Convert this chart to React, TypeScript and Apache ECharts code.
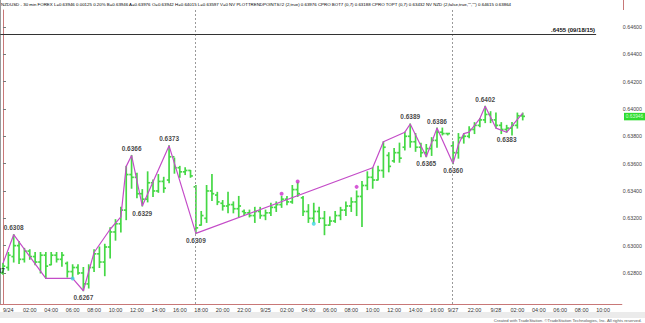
import React, { useEffect, useRef } from "react";
import * as echarts from "echarts";

// ---- time slots (30 min bars) ----
const sessions = [
  { date: "9/23", start: "23:30", count: 1 },
  { date: "9/24", start: "00:00", count: 48 },
  { date: "9/25", start: "00:00", count: 35 },
  { date: "9/27", start: "20:00", count: 8 },
  { date: "9/28", start: "00:00", count: 24 },
];

// ---- OHLC bars (slot index = array index) ----
const barOpen = [
  0.6280, 0.6284, 0.6292, 0.6300, 0.6290, 0.6296, 0.6292, 0.6288, 0.6293, 0.6286,
  0.6293, 0.6290, 0.6287, 0.6281, 0.6284, 0.6280, 0.6272, 0.6284, 0.6294, 0.6288,
  0.6299, 0.6310, 0.6316, 0.6326, 0.6352, 0.6350, 0.6338, 0.6334, 0.6346, 0.6340,
  0.6347, 0.6348, 0.6365, 0.6357, 0.6354, 0.6355, 0.6343, 0.6315, 0.6320, 0.6340,
  0.6337, 0.6331, 0.6329, 0.6330, 0.6327, 0.6325, 0.6324, 0.6322, 0.6325, 0.6322,
  0.6324, 0.6328, 0.6330, 0.6334, 0.6332, 0.6341, 0.6335, 0.6325, 0.6320, 0.6325,
  0.6320, 0.6315, 0.6318, 0.6322, 0.6326, 0.6329, 0.6332, 0.6336, 0.6344, 0.6350,
  0.6348, 0.6355, 0.6366, 0.6362, 0.6368, 0.6372, 0.6380, 0.6376, 0.6372, 0.6368,
  0.6371, 0.6377, 0.6383, 0.6382, 0.6373, 0.6368, 0.6379, 0.6380, 0.6385, 0.6388,
  0.6392, 0.6396, 0.6392, 0.6388, 0.6385, 0.6386, 0.6388, 0.6395,
];
const barHigh = [
  0.6287, 0.6295, 0.6308, 0.6303, 0.6298, 0.6297, 0.6295, 0.6295, 0.6295, 0.6295,
  0.6295, 0.6295, 0.6288, 0.6286, 0.6286, 0.6284, 0.6286, 0.6297, 0.6299, 0.6301,
  0.6313, 0.6319, 0.6328, 0.6358, 0.6366, 0.6353, 0.6341, 0.6354, 0.6348, 0.6352,
  0.6350, 0.6373, 0.6364, 0.6358, 0.6357, 0.6355, 0.6344, 0.6325, 0.6344, 0.6352,
  0.6339, 0.6333, 0.6339, 0.6332, 0.6336, 0.6326, 0.6326, 0.6328, 0.6328, 0.6326,
  0.6331, 0.6332, 0.6336, 0.6336, 0.6344, 0.6346, 0.6336, 0.6330, 0.6331, 0.6328,
  0.6325, 0.6321, 0.6325, 0.6328, 0.6332, 0.6335, 0.6340, 0.6347, 0.6354, 0.6357,
  0.6358, 0.6376, 0.6368, 0.6371, 0.6375, 0.6383, 0.6389, 0.6382, 0.6375, 0.6374,
  0.6379, 0.6386, 0.6386, 0.6382, 0.6376, 0.6382, 0.6382, 0.6387, 0.6390, 0.6393,
  0.6402, 0.6398, 0.6397, 0.6390, 0.6388, 0.6390, 0.6397, 0.6397,
];
const barLow = [
  0.6279, 0.6282, 0.6288, 0.6287, 0.6288, 0.6290, 0.6286, 0.6280, 0.6276, 0.6286,
  0.6288, 0.6285, 0.6277, 0.6276, 0.6279, 0.6267, 0.6269, 0.6281, 0.6284, 0.6278,
  0.6291, 0.6304, 0.6310, 0.6319, 0.6342, 0.6335, 0.6329, 0.6332, 0.6336, 0.6339,
  0.6339, 0.6346, 0.6353, 0.6350, 0.6352, 0.6350, 0.6309, 0.6315, 0.6317, 0.6333,
  0.6330, 0.6326, 0.6324, 0.6324, 0.6321, 0.6322, 0.6321, 0.6317, 0.6320, 0.6319,
  0.6322, 0.6325, 0.6328, 0.6330, 0.6331, 0.6336, 0.6322, 0.6317, 0.6317, 0.6317,
  0.6308, 0.6315, 0.6317, 0.6319, 0.6322, 0.6325, 0.6322, 0.6314, 0.6341, 0.6342,
  0.6348, 0.6350, 0.6354, 0.6361, 0.6361, 0.6370, 0.6372, 0.6369, 0.6365, 0.6365,
  0.6366, 0.6372, 0.6381, 0.6381, 0.6360, 0.6364, 0.6375, 0.6379, 0.6382, 0.6387,
  0.6390, 0.6390, 0.6386, 0.6382, 0.6383, 0.6381, 0.6386, 0.6392,
];
const barClose = [
  0.6285, 0.6293, 0.6300, 0.6290, 0.6296, 0.6292, 0.6288, 0.6293, 0.6285, 0.6293,
  0.6290, 0.6293, 0.6281, 0.6284, 0.6280, 0.6272, 0.6284, 0.6294, 0.6288, 0.6299,
  0.6310, 0.6316, 0.6326, 0.6352, 0.6350, 0.6338, 0.6334, 0.6346, 0.6340, 0.6347,
  0.6342, 0.6365, 0.6357, 0.6354, 0.6355, 0.6351, 0.6313, 0.6322, 0.6340, 0.6338,
  0.6332, 0.6329, 0.6330, 0.6327, 0.6329, 0.6324, 0.6322, 0.6325, 0.6322, 0.6324,
  0.6328, 0.6330, 0.6334, 0.6332, 0.6341, 0.6338, 0.6325, 0.6320, 0.6325, 0.6320,
  0.6315, 0.6318, 0.6322, 0.6326, 0.6329, 0.6332, 0.6336, 0.6344, 0.6350, 0.6348,
  0.6355, 0.6372, 0.6358, 0.6368, 0.6364, 0.6380, 0.6376, 0.6372, 0.6368, 0.6371,
  0.6377, 0.6383, 0.6382, 0.6382, 0.6368, 0.6379, 0.6380, 0.6385, 0.6388, 0.6392,
  0.6396, 0.6392, 0.6388, 0.6385, 0.6386, 0.6388, 0.6395, 0.63946,
];

// ---- trend-point zigzag ----
const zzSlot = [0, 2, 8, 13, 15, 17, 20, 22, 23, 24, 26, 31, 36, 69, 71, 75, 76, 79, 81, 84, 85, 86, 87, 89, 90, 92, 94, 97];
const zzPrice = [
  0.6287, 0.6308, 0.6276, 0.6276, 0.6267, 0.6295, 0.6312, 0.6321, 0.6358, 0.6366,
  0.6329, 0.6373, 0.6309, 0.6357, 0.6376, 0.6383, 0.6389, 0.6365, 0.6386, 0.6360,
  0.6374, 0.6382, 0.6383, 0.6393, 0.6402, 0.6386, 0.6383, 0.6397,
];
const zzLabelPos = [
  "bottom", "top", "", "", "bottom", "", "", "", "", "top",
  "bottom", "top", "bottom", "", "", "", "top", "bottom", "top", "bottom",
  "", "", "", "", "top", "", "bottom", "",
];

// ---- CPRO dots ----
const topDotSlot = [52, 55, 66];
const topDotPrice = [0.6338, 0.6347, 0.6343];
const botDotSlot = [13, 58];
const botDotPrice = [0.6276, 0.6316];

// ---- reference lines ----
const sessionBreaks = [35.8, 83.8];
const refLevel = 0.6455;
const refLevelEnd = 110.7;
const refLevelLabel = ".6455 (09/18/15)";
const lastPrice = 0.63946;

// ---- y axis ----
const yTicks = [0.628, 0.630, 0.632, 0.634, 0.636, 0.638, 0.640, 0.642, 0.644, 0.646];
const yMin = 0.62573;
const yMax = 0.64724;

const headerParts: [string, string][] = [
  ["g", "NZDUSD - 30 min FOREX L=0.63946 0.00125 0.20% "],
  ["k", "B=0.63946 A=0.63976 "],
  ["g", "O=0.63942 "],
  ["k", "H=0.64015 L=0.63597 V=0 NV PLOTTRENDPOINTS#2 (2,true) "],
  ["m", "0.63976 "],
  ["k", "CPRO BOT7 (0,7) "],
  ["c", "0.63188 "],
  ["k", "CPRO TOPT (0,7) "],
  ["m", "0.63432 "],
  ["k", 'NV NZD (2,false,true,"","") '],
  ["r", "0.64615 0.63864"],
];
const footerText = "Created with TradeStation. \u00A9TradeStation Technologies, Inc. All rights reserved.";

const FONT = "'Liberation Sans', Arial, sans-serif";
const BAR_COLOR = "#45d845";
const ZZ_COLOR = "#c44cc8";
const HEADER_SIZE = 4.4;

function buildCategories() {
  const out: string[] = [];
  const firsts: number[] = [];
  sessions.forEach((s) => {
    const [hh, mm] = s.start.split(":").map(Number);
    const base = hh * 60 + mm;
    firsts.push(out.length);
    for (let k = 0; k < s.count; k++) {
      const t = base + 30 * k;
      const h = Math.floor(t / 60);
      const m = t % 60;
      out.push(`${s.date} ${String(h).padStart(2, "0")}:${String(m).padStart(2, "0")}`);
    }
  });
  return { cats: out, firsts };
}

function buildGraphics(tagY: number | null) {
  const mk = (color: string) => ({ color, fontSize: HEADER_SIZE, fontFamily: FONT });
  const richStyles: any = {
    g: mk("#22b022"),
    k: mk("#222222"),
    m: mk("#cc22cc"),
    c: mk("#20b8c8"),
    r: mk("#d84020"),
  };
  const headerText = headerParts.map(([k, t]) => `{${k}|${t}}`).join("");
  const list: any[] = [
    {
      type: "text",
      left: 1,
      top: 2,
      style: { text: headerText, rich: richStyles, fontSize: HEADER_SIZE, fontFamily: FONT },
      silent: true,
    },
    {
      type: "rect",
      shape: { x: 0, y: 312, width: 645, height: 6 },
      style: { fill: "#ebebeb" },
      silent: true,
    },
    {
      type: "line",
      shape: { x1: 0.5, y1: 0, x2: 0.5, y2: 304 },
      style: { stroke: "#9a9a9a", lineWidth: 1 },
      silent: true,
    },
    {
      type: "line",
      shape: { x1: 623.5, y1: 0, x2: 623.5, y2: 10 },
      style: { stroke: "#c87878", lineWidth: 1 },
      silent: true,
    },
    {
      type: "text",
      right: 3,
      top: 318,
      style: { text: footerText, fontSize: 4.2, fill: "#555", fontFamily: FONT },
      silent: true,
    },
  ];
  if (tagY !== null && isFinite(tagY)) {
    list.push({
      type: "rect",
      shape: { x: 624, y: tagY - 3.5, width: 21, height: 7.5 },
      style: { fill: "#2edc2e" },
      silent: true,
      z: 10,
    });
    list.push({
      type: "text",
      x: 634.5,
      y: tagY + 0.3,
      style: {
        text: lastPrice.toFixed(5),
        fill: "#d8ffd8",
        fontSize: 4.8,
        fontFamily: FONT,
        align: "center",
        verticalAlign: "middle",
      },
      silent: true,
      z: 11,
    });
  }
  return list;
}

function buildOption() {
  const { cats, firsts } = buildCategories();
  const showLabel = (v: string) => {
    const t = v.split(" ")[1];
    const [h, m] = t.split(":").map(Number);
    return m === 0 && h % 2 === 0;
  };
  const labelText = (v: string, idx: number) => {
    const [d, t] = v.split(" ");
    if (t === "00:00" || (firsts.includes(idx) && idx > 1)) return d;
    return t;
  };

  const barData = barOpen.map((o, i) => [i, o, barClose[i], barLow[i], barHigh[i]]);
  const zzData = zzSlot.map((s, i) => [s, zzPrice[i]]);
  const zzLabelData = zzSlot
    .map((s, i) => ({ s, p: zzPrice[i], pos: zzLabelPos[i] }))
    .filter((d) => d.pos !== "")
    .map((d) =>
      d.s === 0
        ? { value: [d.s, d.p], label: { position: d.pos, align: "right", offset: [2, 0] } }
        : { value: [d.s, d.p], label: { position: d.pos } }
    );

  return {
    animation: false,
    backgroundColor: "#ffffff",
    grid: { left: 0, right: 22, top: 10, bottom: 19, containLabel: false },
    xAxis: [
      {
        type: "category",
        data: cats,
        boundaryGap: true,
        axisLine: { show: true, lineStyle: { color: "#c87878", width: 1 } },
        axisTick: { show: false },
        splitLine: { show: false },
        axisLabel: {
          interval: (_i: number, v: string) => showLabel(v),
          formatter: (v: string, i: number) => labelText(v, i),
          fontSize: 5.5,
          color: "#333",
          margin: 3,
          fontFamily: FONT,
        },
      },
      { type: "value", min: -0.5, max: cats.length - 0.5, show: false },
    ],
    yAxis: {
      type: "value",
      position: "right",
      min: yMin,
      max: yMax,
      axisLine: { show: true, lineStyle: { color: "#c87878", width: 1 } },
      axisTick: { show: true, length: 3, customValues: yTicks, lineStyle: { color: "#777" } },
      axisLabel: {
        customValues: yTicks,
        formatter: (v: number) => v.toFixed(5),
        fontSize: 5.3,
        lineHeight: 5.5,
        color: "#444",
        margin: 1,
        fontFamily: FONT,
      },
      splitLine: { show: false },
    },
    graphic: buildGraphics(null),
    series: [
      {
        type: "custom",
        name: "bars",
        xAxisIndex: 0,
        yAxisIndex: 0,
        data: barData,
        encode: { x: 0, y: [1, 2, 3, 4] },
        z: 2,
        renderItem: (_p: any, api: any) => {
          const x = api.value(0);
          const o = api.coord([x, api.value(1)]);
          const c = api.coord([x, api.value(2)]);
          const l = api.coord([x, api.value(3)]);
          const h = api.coord([x, api.value(4)]);
          const w = 2.3;
          const style = { stroke: BAR_COLOR, lineWidth: 1.7 };
          return {
            type: "group",
            children: [
              { type: "line", shape: { x1: h[0], y1: h[1] - 0.5, x2: l[0], y2: l[1] + 0.5 }, style },
              { type: "line", shape: { x1: o[0] - w, y1: o[1], x2: o[0], y2: o[1] }, style },
              { type: "line", shape: { x1: c[0], y1: c[1], x2: c[0] + w, y2: c[1] }, style },
            ],
          };
        },
      },
      {
        type: "line",
        name: "trend",
        xAxisIndex: 0,
        data: zzData,
        symbol: "none",
        lineStyle: { color: ZZ_COLOR, width: 1.2 },
        z: 3,
      },
      {
        type: "scatter",
        name: "trendLabels",
        xAxisIndex: 0,
        data: zzLabelData,
        symbolSize: 1,
        itemStyle: { color: "rgba(0,0,0,0)" },
        z: 4,
        label: {
          show: true,
          formatter: (p: any) => p.value[1].toFixed(4),
          fontSize: 6.5,
          fontWeight: "bold",
          color: "#111",
          distance: 3,
          fontFamily: FONT,
        },
      },
      {
        type: "scatter",
        name: "top",
        xAxisIndex: 0,
        data: topDotSlot.map((s, i) => [s, topDotPrice[i]]),
        symbolSize: 4,
        itemStyle: { color: "#cc2fcc" },
        z: 5,
      },
      {
        type: "scatter",
        name: "bot",
        xAxisIndex: 0,
        data: botDotSlot.map((s, i) => [s, botDotPrice[i]]),
        symbolSize: 4,
        itemStyle: { color: "#3cd6e0" },
        z: 5,
      },
      {
        type: "line",
        name: "marks",
        xAxisIndex: 1,
        data: [],
        z: 6,
        markLine: {
          silent: true,
          symbol: ["none", "none"],
          animation: false,
          data: [
            ...sessionBreaks.map((b) => ({
              xAxis: b,
              lineStyle: { color: "#9a9a9a", type: [2, 2], width: 1 },
              label: { show: false },
            })),
            [
              {
                coord: [-0.5, refLevel],
                lineStyle: { color: "#333", type: "solid", width: 1 },
                label: {
                  show: true,
                  position: "insideEndTop",
                  formatter: refLevelLabel,
                  fontSize: 6,
                  fontWeight: "bold",
                  color: "#111",
                  distance: 1,
                  fontFamily: FONT,
                },
              },
              { coord: [refLevelEnd, refLevel] },
            ],
          ],
        },
      },
    ],
  };
}

export default function App() {
  const ref = useRef<HTMLDivElement>(null);
  useEffect(() => {
    document.body.style.margin = "0";
    const chart = echarts.init(ref.current as HTMLDivElement, null, { renderer: "svg" });
    chart.setOption(buildOption() as any);
    try {
      // last-price tag on the price axis, positioned through the y scale
      const yPx = chart.convertToPixel({ yAxisIndex: 0 }, lastPrice) as number;
      chart.setOption({ graphic: buildGraphics(yPx) } as any, { replaceMerge: ["graphic"] } as any);
    } catch (e) {
      // keep the chart without the tag
    }
    return () => chart.dispose();
  }, []);
  return <div ref={ref} style={{ width: 645, height: 323 }} />;
}
